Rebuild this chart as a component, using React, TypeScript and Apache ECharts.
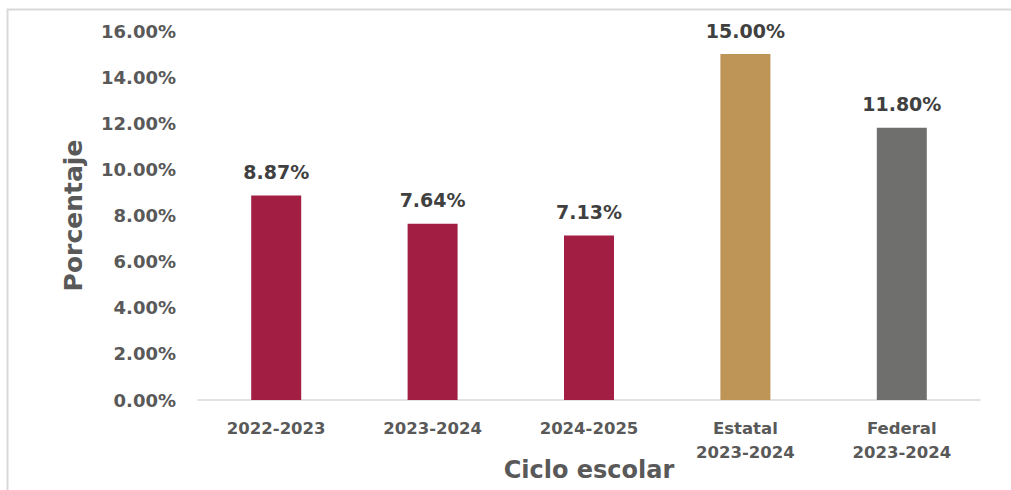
import React, { useEffect, useRef } from "react";
import * as echarts from "echarts";

const categories = ["2022-2023", "2023-2024", "2024-2025", "Estatal\n2023-2024", "Federal\n2023-2024"];
const values = [8.87, 7.64, 7.13, 15.0, 11.8];
const barColors = ["#A21F43", "#A21F43", "#A21F43", "#BE9457", "#6F706E"];
const yTicks = [0, 2, 4, 6, 8, 10, 12, 14, 16];

const FONT = "'DejaVu Sans', sans-serif";

export default function App() {
  const ref = useRef<HTMLDivElement>(null);
  useEffect(() => {
    if (!ref.current) return;
    const chart = echarts.init(ref.current, null, { renderer: "svg" });
    chart.setOption({
      animation: false,
      backgroundColor: "#ffffff",
      textStyle: { fontFamily: FONT },
      graphic: [
        {
          type: "rect",
          shape: { x: 7.5, y: 9.5, width: 1100, height: 600 },
          style: { fill: "none", stroke: "#D9D9D9", lineWidth: 2 },
          silent: true,
        },
      ],
      grid: { left: 198, right: 31, top: 31, bottom: 90, containLabel: false, outerBoundsMode: "none" },
      xAxis: {
        type: "category",
        data: categories,
        axisLine: { show: true, lineStyle: { color: "#D9D9D9", width: 1.5 } },
        axisTick: { show: false },
        axisLabel: {
          color: "#595959",
          fontSize: 16.5,
          fontWeight: 700,
          fontFamily: FONT,
          lineHeight: 24,
          margin: 16,
        },
        name: "Ciclo escolar",
        nameLocation: "middle",
        nameGap: 58,
        nameMoveOverlap: false,
        nameTextStyle: { color: "#595959", fontSize: 24, fontWeight: 700, fontFamily: FONT },
      },
      yAxis: {
        type: "value",
        min: yTicks[0],
        max: yTicks[yTicks.length - 1],
        interval: 2,
        axisLine: { show: false },
        axisTick: { show: false },
        splitLine: { show: false },
        axisLabel: {
          color: "#595959",
          fontSize: 18,
          fontWeight: 700,
          fontFamily: FONT,
          margin: 22,
          formatter: (v: number) => v.toFixed(2) + "%",
        },
        name: "Porcentaje",
        nameLocation: "middle",
        nameGap: 112,
        nameMoveOverlap: false,
        nameRotate: 90,
        nameTextStyle: { color: "#595959", fontSize: 25, fontWeight: 700, fontFamily: FONT },
      },
      series: [
        {
          type: "bar",
          data: values.map((v, i) => ({ value: v, itemStyle: { color: barColors[i] } })),
          barWidth: 50,
          label: {
            show: true,
            position: "top",
            distance: 14,
            color: "#404040",
            fontSize: 19,
            fontWeight: 700,
            fontFamily: FONT,
            formatter: (p: any) => p.value.toFixed(2) + "%",
          },
        },
      ],
    });
    return () => chart.dispose();
  }, []);
  return (
    <div
      ref={ref}
      style={{ position: "fixed", left: 0, top: 0, width: 1011, height: 490 }}
    />
  );
}
